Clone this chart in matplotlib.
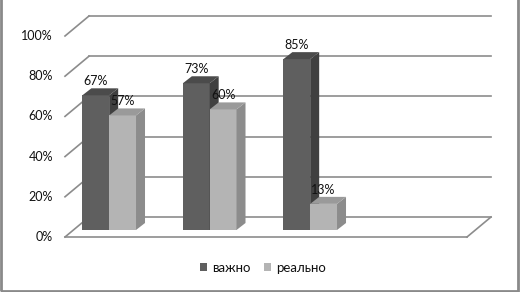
import matplotlib
matplotlib.use("Agg")
import matplotlib.pyplot as plt
from matplotlib.patches import Polygon, Patch, Rectangle
from matplotlib.transforms import Affine2D, IdentityTransform

plt.rcParams['font.family'] = ['Lato', 'DejaVu Sans']

groups = [0, 1, 2]
series_names = ["важно", "реально"]
vazhno = [67, 73, 85]
realno = [57, 60, 13]
ticks = [0, 20, 40, 60, 80, 100]
tick_labels = ["0%", "20%", "40%", "60%", "80%", "100%"]

W, H = 521, 292
fig = plt.figure(figsize=(W / 100, H / 100), dpi=100)
ax = fig.add_axes([73 / W, 62 / H, 402 / W, 201 / H])
xmin, xmax = -0.36, 3.64
ax.set_xlim(xmin, xmax)
ax.set_ylim(0, 100)
ax.axis('off')

front = ax.transData + Affine2D().translate(-8, -7)
back = ax.transData + Affine2D().translate(16, 13)
ident = IdentityTransform()
grid_c = '#8c8c8c'
txt_c = '#111111'

# walls / grid
for v, lab in zip(ticks, tick_labels):
    ax.plot([xmin, xmax], [v, v], transform=back, color=grid_c, lw=1.2, clip_on=False, zorder=1)
    p1 = front.transform((xmin, v))
    p2 = back.transform((xmin, v))
    ax.plot([p1[0], p2[0]], [p1[1], p2[1]], transform=ident, color=grid_c, lw=1.2, clip_on=False, zorder=1)
    ax.text(xmin, v, lab, transform=front + Affine2D().translate(-12, 0),
            ha='right', va='center', fontsize=9, color=txt_c)

# floor front edge and right edge
ax.plot([xmin, xmax], [0, 0], transform=front, color=grid_c, lw=1.2, clip_on=False, zorder=1)
p1 = front.transform((xmax, 0))
p2 = back.transform((xmax, 0))
ax.plot([p1[0], p2[0]], [p1[1], p2[1]], transform=ident, color=grid_c, lw=1.2, clip_on=False, zorder=1)

w = 0.267
ddx, ddy = 9, 7


def box(x0, h, cf, cs, ct, z):
    x1 = x0 + w
    ax.bar(x0, h, width=w, align='edge', color=cf, zorder=z, clip_on=False)
    (a0, b0), (a1, b1) = ax.transData.transform([(x0, 0), (x1, h)])
    side = [(a1, b0), (a1 + ddx, b0 + ddy), (a1 + ddx, b1 + ddy), (a1, b1)]
    top = [(a0, b1), (a1, b1), (a1 + ddx, b1 + ddy), (a0 + ddx, b1 + ddy)]
    ax.add_patch(Polygon(side, closed=True, transform=ident, facecolor=cs, edgecolor='none', zorder=z, clip_on=False))
    ax.add_patch(Polygon(top, closed=True, transform=ident, facecolor=ct, edgecolor='none', zorder=z, clip_on=False))
    ax.text(x0 + w / 2, h, f"{h}%", transform=ax.transData + Affine2D().translate(0, 14),
            ha='center', va='center', fontsize=9, color=txt_c, zorder=10)


for i, g in enumerate(groups):
    box(g - w, vazhno[i], '#5f5f5f', '#404040', '#4b4b4b', 3)
    box(g, realno[i], '#b4b4b4', '#8c8c8c', '#9a9a9a', 4)

handles = [Patch(facecolor='#5f5f5f'), Patch(facecolor='#b4b4b4')]
fig.legend(handles, series_names, loc='center', bbox_to_anchor=(263 / W, 1 - 268 / H), ncol=2,
           frameon=False, handlelength=0.55, handleheight=0.55, handletextpad=0.4,
           columnspacing=1.0, fontsize=9.5, labelcolor=txt_c)

fig.patches.append(Rectangle((1 / W, 1.5 / H), 517 / W, 1.1, transform=fig.transFigure,
                             fill=False, edgecolor='#8a8a8a', lw=2))

fig.savefig('out.png', dpi=100)
